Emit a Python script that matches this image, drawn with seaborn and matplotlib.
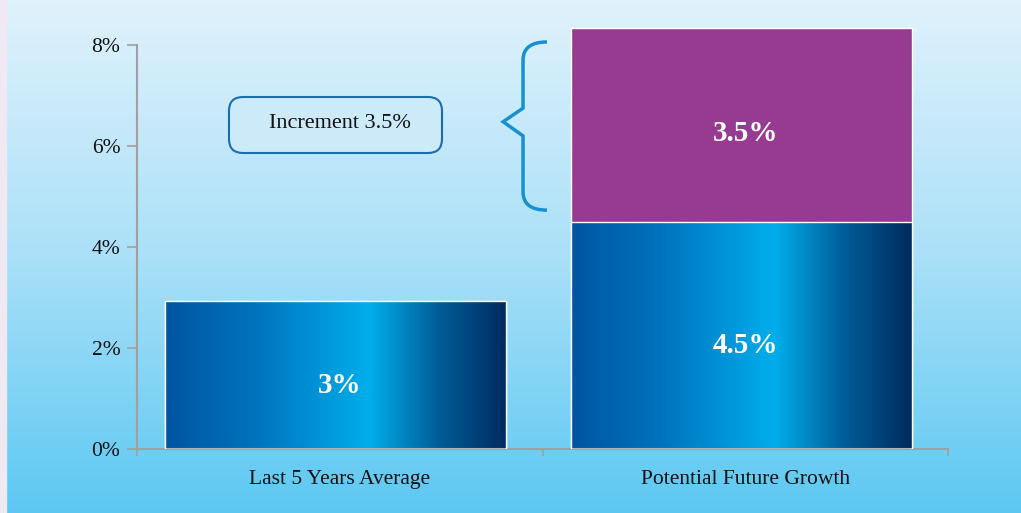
import numpy as np
import pandas as pd
import matplotlib
matplotlib.use('Agg')
import matplotlib.pyplot as plt
import seaborn as sns
from matplotlib.colors import LinearSegmentedColormap
from matplotlib.patches import FancyBboxPatch, PathPatch, Rectangle
from matplotlib.path import Path

# Dati
categories = ['Last 5 Years Average', 'Potential Future Growth']
base_values = [2.93, 4.5]
increment_values = [0.0, 3.84]
base_labels = ['3%', '4.5%']
increment_label = '3.5%'
y_ticks = [0, 2, 4, 6, 8]
y_tick_labels = ['0%', '2%', '4%', '6%', '8%']
box_text = 'Increment 3.5%'

df = pd.DataFrame({'category': categories, 'base': base_values, 'increment': increment_values})
df['total'] = df['base'] + df['increment']

sns.set_theme(style='white')
plt.rcParams['font.family'] = ['Liberation Serif', 'DejaVu Serif']

fig = plt.figure(figsize=(10.21, 5.13), dpi=100)

# Sfondo sfumato
bg = fig.add_axes([0, 0, 1, 1], zorder=-10)
bg_cmap = LinearSegmentedColormap.from_list('bg', ['#e0f2fc', '#aae0f8', '#5cc8f2'])
bg.imshow(np.linspace(0, 1, 256).reshape(-1, 1), cmap=bg_cmap, aspect='auto', extent=[0, 1, 0, 1])
bg.add_patch(Rectangle((0, 0), 6 / 1021, 1, color='#f1e9f2', transform=bg.transAxes))
bg.axis('off')

ymax = 8.36
ax = fig.add_axes([137 / 1021, 1 - 449 / 513, 811 / 1021, ymax * 50.5 / 513])
ax.set_facecolor('none')

# Barre: prima il totale (viola), poi la base sopra
sns.barplot(data=df, x='category', y='total', color='#973a92', width=0.84, saturation=1,
            edgecolor='white', linewidth=1, ax=ax, zorder=1)
n_total = len(ax.patches)
sns.barplot(data=df, x='category', y='base', color='#0070bb', width=0.84, saturation=1,
            edgecolor='white', linewidth=1, ax=ax, zorder=3)
base_patches = ax.patches[n_total:]

# piccolo spostamento a sinistra come nell'originale
for p in ax.patches:
    p.set_x(p.get_x() - 0.01)

grad_cmap = LinearSegmentedColormap.from_list(
    'bar', [(0, '#0055a2'), (0.25, '#0071bc'), (0.6, '#00aeeb'), (0.8, '#005e99'), (1, '#002b60')])
for p in base_patches:
    x0, y0 = p.get_x(), p.get_y()
    w, h = p.get_width(), p.get_height()
    im = ax.imshow(np.linspace(0, 1, 256).reshape(1, -1), cmap=grad_cmap, aspect='auto',
                   extent=[x0, x0 + w, y0, y0 + h], zorder=2)
    im.set_clip_path(p)
    p.set_facecolor('none')

ax.set_xlim(-0.5, 1.5)
ax.set_ylim(0, ymax)

# Etichette dei valori
for i, row in df.iterrows():
    ax.text(i, row['base'] / 2 - 0.2, base_labels[i], ha='center', va='center',
            color='white', fontsize=21, fontweight='bold', zorder=5)
    if row['increment'] > 0:
        ax.text(i, row['base'] + row['increment'] / 2 - 0.18, increment_label, ha='center',
                va='center', color='white', fontsize=21, fontweight='bold', zorder=5)

# Assi
ax.set_yticks(y_ticks)
ax.set_yticklabels(y_tick_labels)
ax.set_xticks([-0.5, 0.5, 1.5], minor=True)
ax.set_xlabel('')
ax.set_ylabel('')
ax.tick_params(axis='x', which='major', bottom=True, length=0, pad=15, labelsize=15.5, labelcolor='#111111')
ax.tick_params(axis='x', which='minor', bottom=True, length=5, width=1.2, color='#a0a0a0')
ax.tick_params(axis='y', left=True, length=7, width=1.2, color='#a0a0a0', pad=5,
               labelsize=15.5, labelcolor='#111111')
sns.despine(ax=ax)
ax.spines['left'].set_bounds(0, 8)
for s in ['left', 'bottom']:
    ax.spines[s].set_color('#a0a0a0')
    ax.spines[s].set_linewidth(1.5)

# Parentesi graffa
verts = [(0.511, 8.06), (0.452, 8.06), (0.452, 7.70), (0.452, 6.75), (0.403, 6.48),
         (0.452, 6.20), (0.452, 5.09), (0.452, 4.73), (0.511, 4.73)]
codes = [Path.MOVETO, Path.CURVE3, Path.CURVE3, Path.LINETO, Path.LINETO,
         Path.LINETO, Path.LINETO, Path.CURVE3, Path.CURVE3]
ax.add_patch(PathPatch(Path(verts, codes), fill=False, ec='#1590d0', lw=2.5,
                       clip_on=False, zorder=4))

# Riquadro con testo
box = FancyBboxPatch((2.29, 3.60), 2.13, 0.56, boxstyle='round,pad=0,rounding_size=0.14',
                     transform=fig.dpi_scale_trans, fc='#cdeaf9', ec='#1a6cb5', lw=1.5)
fig.add_artist(box)
fig.text(3.40, 3.89, box_text, transform=fig.dpi_scale_trans, ha='center', va='center',
         fontsize=16, color='#111111')

fig.savefig('out.png', dpi=100)
